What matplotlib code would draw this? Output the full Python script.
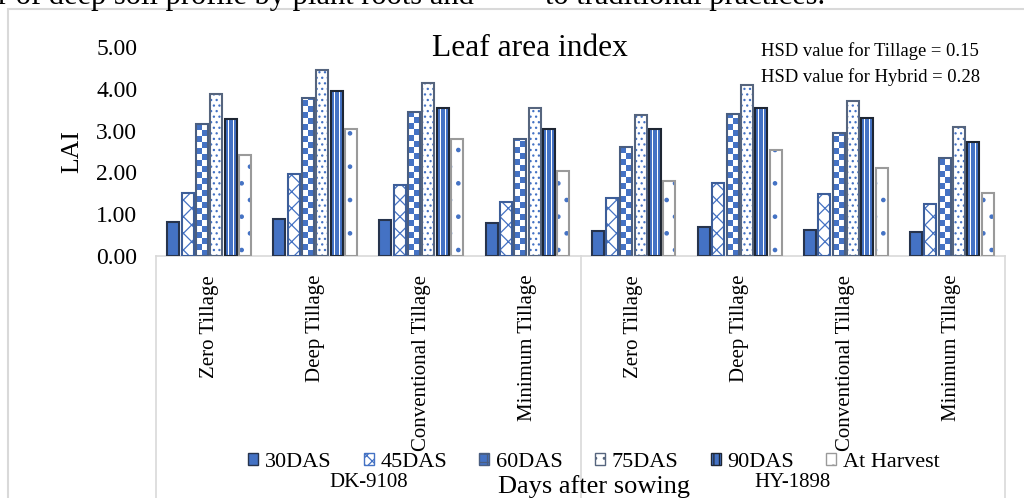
import numpy as np
import matplotlib
matplotlib.use('Agg')
import matplotlib.pyplot as plt
from matplotlib.patches import Patch, Rectangle
from matplotlib.colors import ListedColormap
from matplotlib.transforms import blended_transform_factory

# ---------------- data ----------------
tillage = ['Zero Tillage', 'Deep Tillage', 'Conventional Tillage', 'Minimum Tillage']
hybrids = ['DK-9108', 'HY-1898']
series_names = ['30DAS', '45DAS', '60DAS', '75DAS', '90DAS', 'At Harvest']
das30 = [0.82, 0.88, 0.86, 0.78, 0.61, 0.70, 0.63, 0.57]
das45 = [1.50, 1.95, 1.70, 1.30, 1.39, 1.74, 1.49, 1.25]
das60 = [3.15, 3.77, 3.45, 2.80, 2.61, 3.39, 2.94, 2.35]
das75 = [3.87, 4.45, 4.13, 3.53, 3.37, 4.09, 3.72, 3.09]
das90 = [3.28, 3.95, 3.53, 3.05, 3.05, 3.55, 3.30, 2.73]
harvest = [2.42, 3.05, 2.80, 2.04, 1.80, 2.54, 2.11, 1.51]
y_ticks = [0, 1, 2, 3, 4, 5]
hsd_lines = ['HSD value for Tillage = 0.15', 'HSD value for Hybrid = 0.28']

series = [das30, das45, das60, das75, das90, harvest]

plt.rcParams['font.family'] = ['Liberation Serif', 'DejaVu Serif']
plt.rcParams['hatch.linewidth'] = 0.9

BLUE = '#4472C4'
W, H = 1024, 498
fig = plt.figure(figsize=(W / 100, H / 100), dpi=100)
fig.patch.set_facecolor('white')

ax_left, ax_right, ax_bot, ax_top = 156, 1005, 256, 47
ax = fig.add_axes([ax_left / W, 1 - ax_bot / H, (ax_right - ax_left) / W, (ax_bot - ax_top) / H])

labels_all = tillage + tillage
x = np.arange(len(labels_all))
pitch = 0.135
width = 0.113

styles = [
    dict(face=BLUE, hatch=None, hcol=BLUE, edge='#27344d'),
    dict(face='white', hatch='xx', hcol=BLUE, edge='#3d5e99'),
    dict(face='white', hatch=None, hcol=BLUE, edge='#4a5e80', img='checker'),
    dict(face='white', hatch='...', hcol=BLUE, edge='#56657e'),
    dict(face='white', hatch=None, hcol=BLUE, edge='#1e2633', img='stripes'),
    dict(face='white', hatch='.', hcol=BLUE, edge='#9a9a9a'),
]

cmap = ListedColormap(['white', BLUE])
ppu = (ax_bot - ax_top) / 5.0  # pixels per data unit (y)

for j, (vals, st) in enumerate(zip(series, styles)):
    off = (j - 2.5) * pitch
    bars = ax.bar(x + off, vals, width, color=st['face'], edgecolor=st['hcol'],
                  hatch=st['hatch'], linewidth=0, zorder=2)
    img = st.get('img')
    if img:
        for b in bars:
            x0 = b.get_x()
            h = b.get_height()
            if img == 'checker':
                ch = 6.0 / ppu
                nrows = int(np.ceil(h / ch)) + 1
                arr = np.array([[(r + c) % 2 for c in range(2)] for r in range(nrows)])
                top = nrows * ch
            else:
                pattern = [1, 1, 1, 0, 1, 1, 1, 1, 0, 1, 1, 1]
                arr = np.array([pattern, pattern])
                top = h
            im = ax.imshow(arr, extent=(x0, x0 + width, 0, top), origin='lower',
                           cmap=cmap, vmin=0, vmax=1, interpolation='nearest',
                           aspect='auto', zorder=3)
            im.set_clip_path(b)
    ax.bar(x + off, vals, width, fill=False, edgecolor=st['edge'], linewidth=1.5, zorder=4)

ax.set_xlim(-0.5, len(labels_all) - 0.5)
ax.set_ylim(0, 5)
ax.set_aspect('auto')

for s in ['top', 'right', 'left']:
    ax.spines[s].set_visible(False)
ax.spines['bottom'].set_color('#D9D9D9')
ax.spines['bottom'].set_linewidth(1.2)

ax.set_yticks(y_ticks)
ax.set_yticklabels([f'{v:.2f}' for v in y_ticks], fontsize=17)
ax.tick_params(axis='y', length=0, pad=13.5)
ax.set_xticks(x)
ax.set_xticklabels(labels_all, rotation=90, fontsize=15)
ax.tick_params(axis='x', length=0, pad=13.5)

# multi-level category separators
trans_xa = blended_transform_factory(ax.transData, ax.transAxes)
bottom_axes = -(H - ax_bot) / (ax_bot - ax_top)
for xs in [-0.5, 3.5, 7.5]:
    ax.plot([xs, xs], [0, bottom_axes], transform=trans_xa, color='#D9D9D9',
            lw=1.2, clip_on=False, zorder=1)

trans_xf = blended_transform_factory(ax.transData, fig.transFigure)
for k, hy in enumerate(hybrids):
    ax.text(1.5 + 4 * k, 1 - 482 / H, hy, transform=trans_xf, ha='center', va='center',
            fontsize=15)

# texts
fig.text(530 / W, 1 - 56 / H, 'Leaf area index', ha='center', va='baseline', fontsize=22.7)
fig.text(761 / W, 1 - 56.5 / H, hsd_lines[0], ha='left', va='baseline', fontsize=13.4)
fig.text(761 / W, 1 - 81.5 / H, hsd_lines[1], ha='left', va='baseline', fontsize=13.4)
fig.text(72 / W, 1 - 151.5 / H, 'LAI', rotation=90, ha='center', va='center', fontsize=18.5)
fig.text(594 / W, 1 - 487 / H, 'Days after sowing', ha='center', va='center', fontsize=19)

# page text cut at the top
fig.text(-2 / W, 1 - 4 / H, 'r of deep soil profile by plant roots and', ha='left',
         va='baseline', fontsize=22)
fig.text(545 / W, 1 - 4 / H, 'to traditional practices.', ha='left', va='baseline', fontsize=22)

# chart border
fig.add_artist(Rectangle((8 / W, -0.1), 1.2, (1 - 9 / H) + 0.1, transform=fig.transFigure,
                         fill=False, edgecolor='#D9D9D9', linewidth=1.5, clip_on=False))

# legend
handles = [
    Patch(facecolor=BLUE, edgecolor='#27344d', linewidth=1.0),
    Patch(facecolor='white', edgecolor=BLUE, hatch='xxx', linewidth=1.0),
    Patch(facecolor=BLUE, edgecolor='#4a5e80', hatch='++', linewidth=1.0),
    Patch(facecolor='white', edgecolor='#56657e', hatch='..', linewidth=1.0),
    Patch(facecolor=BLUE, edgecolor='#1e2633', hatch='|||', linewidth=1.0),
    Patch(facecolor='white', edgecolor='#9a9a9a', hatch='.', linewidth=1.0),
]
fig.legend(handles, series_names, loc='center', bbox_to_anchor=(594 / W, 1 - 462 / H),
           ncol=6, frameon=False, fontsize=16, handlelength=0.45, handleheight=0.45,
           handletextpad=0.3, columnspacing=1.45, borderpad=0, borderaxespad=0)

fig.savefig('out.png', dpi=100)
